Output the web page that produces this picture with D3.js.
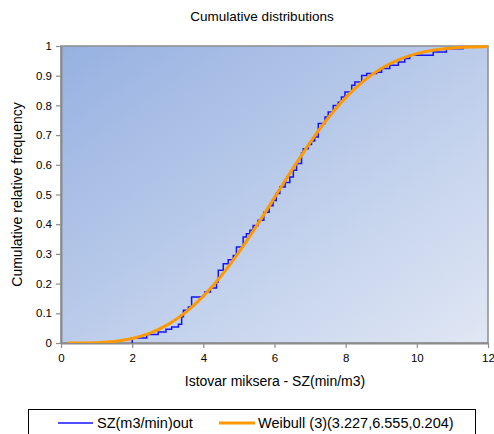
<!DOCTYPE html>
<html>
<head>
<meta charset="utf-8">
<script src="https://cdn.jsdelivr.net/npm/d3@7"></script>
<style>
  html, body { margin: 0; padding: 0; background: #ffffff; }
  svg { display: block; font-family: "Liberation Sans", Arial, sans-serif; }
</style>
</head>
<body>
<svg id="chart" width="494" height="434"></svg>
<script>
// Empirical cumulative distribution: jump positions and cumulative frequency after each jump
const empiricalX = [2.00, 2.41, 2.73, 2.95, 3.11, 3.30, 3.39, 3.44, 3.58, 3.67, 4.00, 4.04, 4.20, 4.37, 4.42,
  4.56, 4.70, 4.84, 4.93, 5.12, 5.21, 5.31, 5.40, 5.54, 5.70, 5.85, 5.96, 6.05, 6.15, 6.30, 6.43, 6.53, 6.62,
  6.76, 6.81, 6.95, 7.04, 7.13, 7.23, 7.42, 7.51, 7.65, 7.79, 7.88, 7.98, 8.17, 8.26, 8.45, 8.59, 8.87,
  9.01, 9.24, 9.48, 9.66, 9.80, 10.46, 10.83, 11.30];
const empiricalY = [0.017, 0.029, 0.037, 0.046, 0.054, 0.063, 0.088, 0.110, 0.121, 0.155, 0.161, 0.172, 0.185, 0.205, 0.245,
  0.267, 0.280, 0.295, 0.323, 0.357, 0.368, 0.380, 0.396, 0.413, 0.440, 0.462, 0.480, 0.503, 0.525, 0.540, 0.559, 0.582, 0.604,
  0.640, 0.654, 0.668, 0.680, 0.694, 0.739, 0.761, 0.778, 0.800, 0.811, 0.828, 0.845, 0.868, 0.879, 0.901, 0.907, 0.912,
  0.924, 0.935, 0.946, 0.958, 0.969, 0.980, 0.991, 1.000];

// Fitted Weibull (3) curve
const fitX = [0.204, 0.5, 1, 1.5, 2, 2.5, 3, 3.5, 4, 4.5, 5, 5.5, 6, 6.5, 7, 7.5, 8, 8.5, 9, 9.5, 10, 10.5, 11, 11.5, 12];
const fitY = [0, 0.0001, 0.0011, 0.0053, 0.0152, 0.0333, 0.0619, 0.1031, 0.1577, 0.2256, 0.3057, 0.3950, 0.4894,
  0.5844, 0.6749, 0.7566, 0.8262, 0.8821, 0.9244, 0.9544, 0.9742, 0.9863, 0.9933, 0.9969, 0.9987];

const xTicks = [0, 2, 4, 6, 8, 10, 12];
const yTicks = [0, 0.1, 0.2, 0.3, 0.4, 0.5, 0.6, 0.7, 0.8, 0.9, 1];

const seriesNames = ["SZ(m3/min)out", "Weibull (3)(3.227,6.555,0.204)"];
const seriesColors = ["#1414ff", "#ff9900"];

const svg = d3.select("#chart");
const plot = { left: 61, top: 46, right: 488, bottom: 343 };

const x = d3.scaleLinear().domain([0, 12]).range([plot.left, plot.right]);
const y = d3.scaleLinear().domain([0, 1]).range([plot.bottom, plot.top]);

// Background gradient of the plot area
const defs = svg.append("defs");
const grad = defs.append("linearGradient").attr("id", "plotBg")
  .attr("x1", 0).attr("y1", 0).attr("x2", 1).attr("y2", 1);
grad.append("stop").attr("offset", "0%").attr("stop-color", "#96b1e1");
grad.append("stop").attr("offset", "100%").attr("stop-color", "#e0e7f4");

defs.append("clipPath").attr("id", "plotClip")
  .append("rect").attr("x", plot.left).attr("y", plot.top - 3)
  .attr("width", plot.right - plot.left + 3).attr("height", plot.bottom - plot.top + 3);

svg.append("rect")
  .attr("x", plot.left).attr("y", plot.top)
  .attr("width", plot.right - plot.left).attr("height", plot.bottom - plot.top)
  .attr("fill", "url(#plotBg)")
  .attr("stroke", "#8c8c8c").attr("stroke-width", 1.5);

// Axes
const xAxis = svg.append("g")
  .attr("transform", `translate(0,${plot.bottom})`)
  .call(d3.axisBottom(x).tickValues(xTicks).tickSize(5).tickSizeOuter(0).tickPadding(6)
    .tickFormat(d3.format("d")));
const yAxis = svg.append("g")
  .attr("transform", `translate(${plot.left},0)`)
  .call(d3.axisLeft(y).tickValues(yTicks).tickSize(5).tickSizeOuter(0).tickPadding(4)
    .tickFormat(d => d === 0 || d === 1 ? String(d) : d3.format(".1f")(d)));

[xAxis, yAxis].forEach(g => {
  g.select(".domain").attr("stroke", "#8c8c8c").attr("stroke-width", 2);
  g.selectAll(".tick line").attr("stroke", "#8c8c8c").attr("stroke-width", 1.2);
  g.selectAll(".tick text").attr("fill", "#000").attr("font-size", 11.5)
    .attr("font-family", "Liberation Sans, Arial, sans-serif");
});

const series = svg.append("g").attr("clip-path", "url(#plotClip)");

// Empirical step line
const stepPts = [[empiricalX[0], 0]].concat(empiricalX.map((v, i) => [v, empiricalY[i]]));
series.append("path")
  .datum(stepPts)
  .attr("fill", "none")
  .attr("stroke", seriesColors[0])
  .attr("stroke-width", 1.5)
  .attr("d", d3.line().x(d => x(d[0])).y(d => y(d[1])).curve(d3.curveStepAfter));

// Fitted curve
series.append("path")
  .datum(fitX.map((v, i) => [v, fitY[i]]))
  .attr("fill", "none")
  .attr("stroke", seriesColors[1])
  .attr("stroke-width", 3)
  .attr("stroke-linejoin", "round")
  .attr("d", d3.line().x(d => x(d[0])).y(d => y(d[1])).curve(d3.curveMonotoneX));

// Titles
svg.append("text").attr("x", 262).attr("y", 21).attr("text-anchor", "middle")
  .attr("font-size", 13.5).text("Cumulative distributions");
svg.append("text").attr("x", 275).attr("y", 386).attr("text-anchor", "middle")
  .attr("font-size", 14).text("Istovar miksera - SZ(min/m3)");
svg.append("text")
  .attr("transform", `translate(22,${(plot.top + plot.bottom) / 2}) rotate(-90)`)
  .attr("text-anchor", "middle").attr("font-size", 14).text("Cumulative relative frequency");

// Legend
const legend = svg.append("g");
legend.append("rect").attr("x", 28.5).attr("y", 409.5).attr("width", 447).attr("height", 30)
  .attr("fill", "#fff").attr("stroke", "#000").attr("stroke-width", 1);
const legendItems = [{ x0: 58, x1: 93, tx: 97 }, { x0: 219, x1: 255, tx: 258 }];
legendItems.forEach((it, i) => {
  legend.append("line").attr("x1", it.x0).attr("x2", it.x1).attr("y1", 423).attr("y2", 423)
    .attr("stroke", seriesColors[i]).attr("stroke-width", i === 0 ? 1.5 : 3);
  legend.append("text").attr("x", it.tx).attr("y", 428).attr("font-size", 14.5).text(seriesNames[i]);
});
</script>
</body>
</html>
